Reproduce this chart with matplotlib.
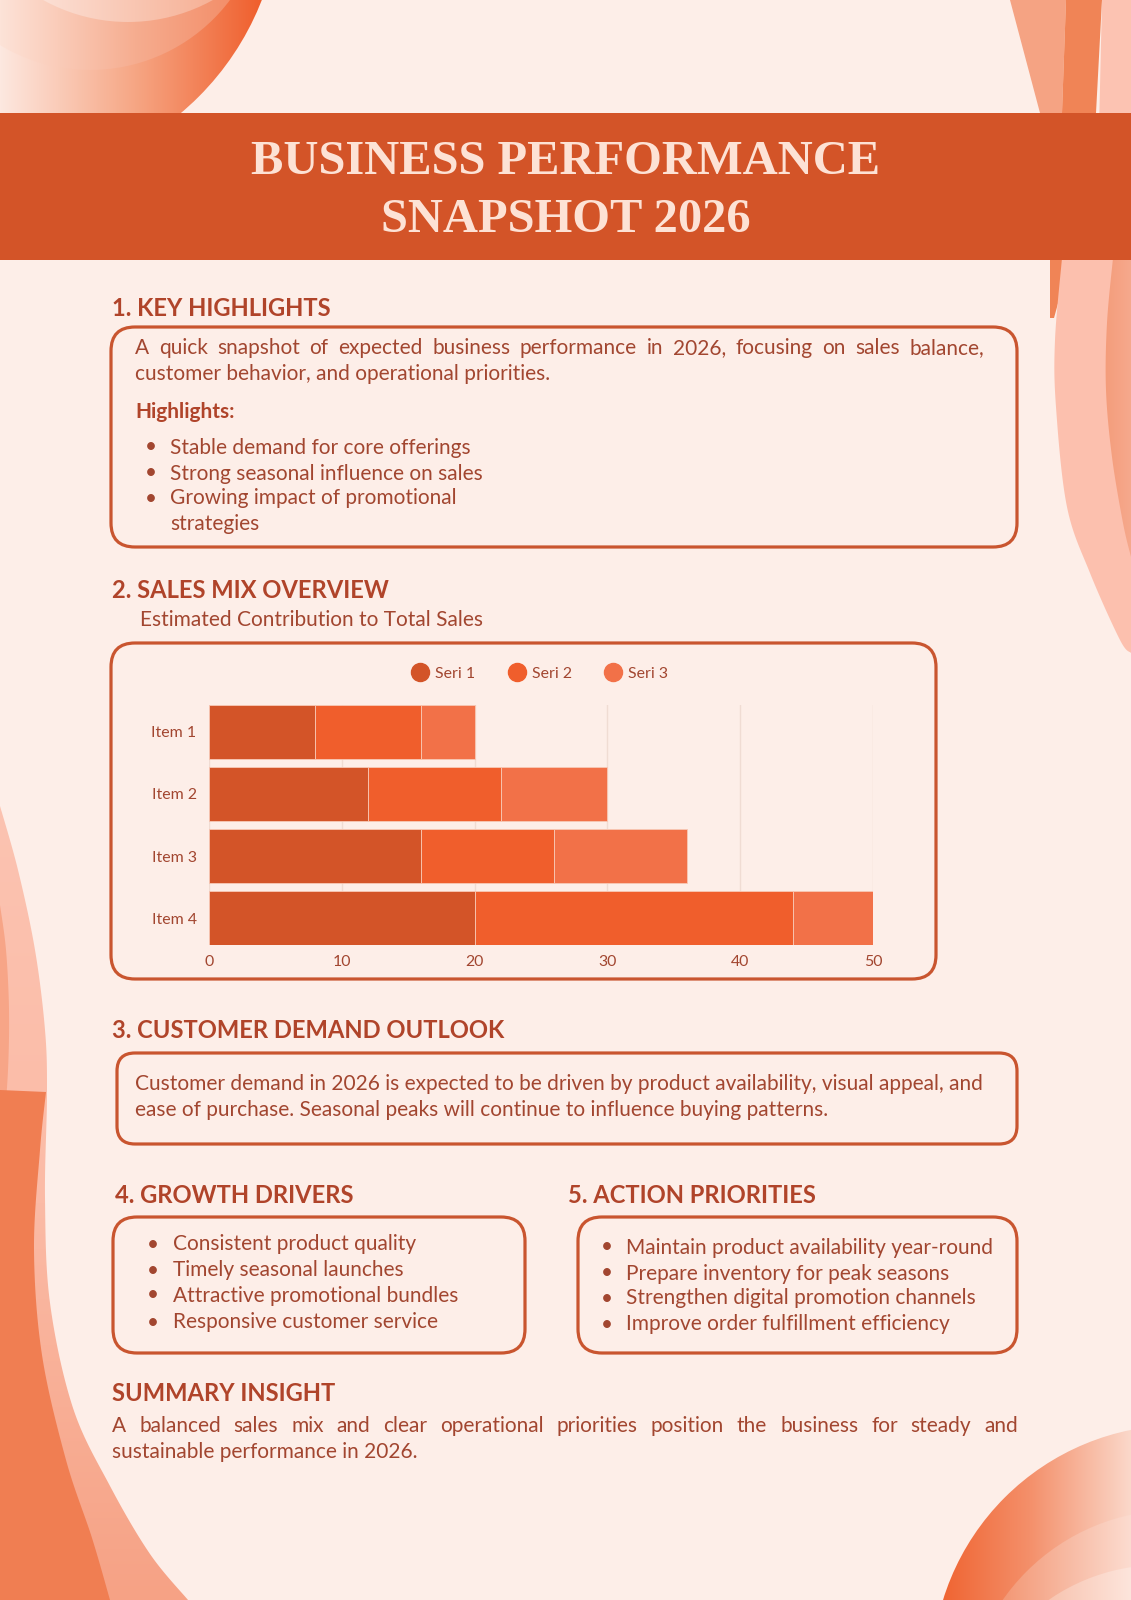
import numpy as np
import matplotlib
matplotlib.use("Agg")
import matplotlib.pyplot as plt
from matplotlib.patches import Rectangle, Circle, Polygon, FancyBboxPatch
from matplotlib.colors import LinearSegmentedColormap
from matplotlib.lines import Line2D

# ---------------- data ----------------
items = ["Item 1", "Item 2", "Item 3", "Item 4"]
series_names = ["Seri 1", "Seri 2", "Seri 3"]
seri1 = [8, 12, 16, 20]
seri2 = [8, 10, 10, 24]
seri3 = [4, 8, 10, 6]
x_ticks = [0, 10, 20, 30, 40, 50]

title_lines = ["BUSINESS PERFORMANCE", "SNAPSHOT 2026"]
highlights = ["Stable demand for core offerings",
              "Strong seasonal influence on sales",
              "Growing impact of promotional",
              "strategies"]
growth = ["Consistent product quality", "Timely seasonal launches",
          "Attractive promotional bundles", "Responsive customer service"]
actions = ["Maintain product availability year-round", "Prepare inventory for peak seasons",
           "Strengthen digital promotion channels", "Improve order fulfillment efficiency"]

# ---------------- style ----------------
W, H = 1131, 1600
BG = "#FDEEE8"
HEADER = "#D35428"
TITLE_C = "#FDE2D5"
HEAD_C = "#B0442A"
BODY_C = "#A24630"
EDGE = "#C9552F"
BAR_COLORS = ["#D35428", "#F05E2C", "#F27148"]
BODY_FONT = "Lato"
DY = 2.5

fig = plt.figure(figsize=(W / 100, H / 100), dpi=100)
fig.patch.set_facecolor(BG)
bg = fig.add_axes([0, 0, 1, 1])
bg.set_xlim(0, W)
bg.set_ylim(H, 0)
bg.axis("off")
bg.set_facecolor(BG)
renderer = fig.canvas.get_renderer()


def width_of(s, size, **kw):
    t = bg.text(0, 0, s, fontsize=size, **kw)
    w = t.get_window_extent(renderer).width
    t.remove()
    return w


def fit(s, target, **kw):
    return 20 * target / width_of(s, 20, **kw)


def grad_fill(patch, x0, x1, colors, z, vertical=False, y0=0, y1=H):
    patch.set_facecolor("none")
    patch.set_edgecolor("none")
    patch.set_zorder(z)
    bg.add_patch(patch)
    cmap = LinearSegmentedColormap.from_list("g", colors)
    g = np.linspace(0, 1, 256)
    if vertical:
        arr = g.reshape(-1, 1)
        ext = [0, W, y1, y0]
    else:
        arr = g.reshape(1, -1)
        ext = [x0, x1, H, 0]
    im = bg.imshow(arr, cmap=cmap, extent=ext, aspect="auto", zorder=z,
                   interpolation="bilinear", origin="upper")
    im.set_clip_path(patch)


def smooth(pts, n=20):
    pts = np.asarray(pts, float)
    P = np.vstack([pts[0], pts, pts[-1]])
    out = []
    for i in range(1, len(P) - 2):
        p0, p1, p2, p3 = P[i - 1], P[i], P[i + 1], P[i + 2]
        for t in np.linspace(0, 1, n, endpoint=False):
            t2, t3 = t * t, t * t * t
            out.append(0.5 * ((2 * p1) + (-p0 + p2) * t + (2 * p0 - 5 * p1 + 4 * p2 - p3) * t2
                              + (-p0 + 3 * p1 - 3 * p2 + p3) * t3))
    out.append(pts[-1])
    return np.array(out)


# ---------------- decorations ----------------
# top-left concentric circles
grad_fill(Circle((0, -102), 281), 0, 270, ["#FDE8E0", "#F6A684", "#EF5A27"], 1)
grad_fill(Circle((90, -105), 175), 0, 270, ["#FDE3D8", "#F6AD90", "#F2825A"], 1.1)
grad_fill(Circle((128, -153), 175), 0, 270, ["#FDEBE4", "#F9C6B2", "#F5A282"], 1.2)

# top-right bands
bg.add_patch(Polygon([(1010, 0), (1066, 0), (1062, 113), (1040, 113)], closed=True,
                     fc="#F5A383", ec="none", zorder=1))
bg.add_patch(Polygon([(1066, 0), (1102, 0), (1096, 113), (1070, 260), (1054, 318),
                      (1050, 318), (1050, 260), (1062, 113)], closed=True,
                     fc="#F08456", ec="none", zorder=1))
bg.add_patch(Polygon([(1102, 0), (W, 0), (W, 260), (1096, 260)], closed=True,
                     fc="#FCC3B2", ec="none", zorder=1))
edge_pts = smooth([(1062, 258), (1055, 340), (1056, 407), (1067, 507), (1090, 573),
                   (1120, 640), (1131, 653)])
bg.add_patch(Polygon(np.vstack([edge_pts, [(W, 653), (W, 258)]]), closed=True,
                     fc="#FCC0AE", ec="none", zorder=1.2))
sal_pts = smooth([(1113, 258), (1107, 323), (1106, 390), (1112, 457), (1123, 523), (1131, 557)])
grad_fill(Polygon(np.vstack([sal_pts, [(W, 557), (W, 258)]]), closed=True), 1100, W,
          ["#F49A77", "#F6A98D"], 1.3)

# left-bottom shapes
pink_pts = smooth([(0, 806), (18, 870), (35, 950), (45, 1030), (47, 1094), (45, 1198),
                   (50, 1303), (73, 1408), (110, 1486), (150, 1554), (188, 1600)])
grad_fill(Polygon(np.vstack([pink_pts, [(0, 1600)]]), closed=True), 0, W,
          ["#FCC3B1", "#FBBBA6", "#F6A285"], 1, vertical=True, y0=806, y1=1600)
strip = smooth([(0, 905), (6, 950), (9, 1010), (8, 1070), (4, 1120), (0, 1135)])
bg.add_patch(Polygon(strip, closed=True, fc="#F7A587", ec="none", zorder=1.1))
orange_pts = smooth([(46, 1092), (40, 1150), (34, 1250), (42, 1355), (66, 1460),
                     (92, 1538), (110, 1600)])
bg.add_patch(Polygon(np.vstack([[(0, 1090)], orange_pts, [(0, 1600)]]), closed=True,
                     fc="#F07E52", ec="none", zorder=1.2))

# bottom-right concentric circles
grad_fill(Circle((1180, 1673), 248), 930, W, ["#EF5E2A", "#F4906B", "#FBD8CA"], 1)
grad_fill(Circle((1175, 1720), 210), 960, W, ["#F18257", "#F6AE93", "#FCDCD0"], 1.1)
grad_fill(Circle((1160, 1760), 195), 1000, W, ["#F5AE93", "#F9CBB9", "#FDE5DC"], 1.2)

# header band
bg.add_patch(Rectangle((0, 113), W, 147, fc=HEADER, ec="none", zorder=3))
TFONT = "Liberation Serif"
tsize = fit(title_lines[0], 628, family=TFONT, fontweight="bold")
bg.text(W / 2, 162, title_lines[0], fontsize=tsize, family=TFONT, fontweight="bold",
        color=TITLE_C, ha="center", va="center", zorder=4)
bg.text(W / 2, 220, title_lines[1], fontsize=tsize, family=TFONT, fontweight="bold",
        color=TITLE_C, ha="center", va="center", zorder=4)

# ---------------- text helpers ----------------
hsize = fit("3. CUSTOMER DEMAND OUTLOOK", 392, family=BODY_FONT, fontweight="bold")
bsize = fit("Customer demand in 2026 is expected to be driven by product availability, visual appeal, and",
            849, family=BODY_FONT)


def heading(x, y, s):
    bg.text(x, y + DY, s, fontsize=hsize, family=BODY_FONT, fontweight="bold", color=HEAD_C,
            ha="left", va="center", zorder=5)


def body(x, y, s, **kw):
    kw.setdefault("ha", "left")
    bg.text(x, y + DY, s, fontsize=bsize, family=BODY_FONT, color=BODY_C,
            va="center", zorder=5, **kw)


def justify(x0, x1, y, s):
    words = s.split()
    ws = [width_of(w, bsize, family=BODY_FONT) for w in words]
    gap = (x1 - x0 - sum(ws)) / (len(words) - 1)
    x = x0
    for w, wd in zip(words, ws):
        body(x, y, w)
        x += wd + gap


def box(x0, y0, x1, y1, r=24):
    bg.add_patch(FancyBboxPatch((x0, y0), x1 - x0, y1 - y0,
                                boxstyle=f"round,pad=0,rounding_size={r}",
                                fc=BG, ec=EDGE, lw=2.3, zorder=4))


def bullets(xb, xt, ys, lines, skip_last_bullet=False):
    for i, (y, s) in enumerate(zip(ys, lines)):
        if not (skip_last_bullet and i == len(lines) - 1):
            body(xb, y, "\u2022", ha="center")
        body(xt, y, s)


# 1. Key highlights
heading(112, 306, "1. KEY HIGHLIGHTS")
box(111, 327, 1017, 547)
justify(135, 984, 346,
        "A quick snapshot of expected business performance in 2026, focusing on sales balance,")
body(135, 372, "customer behavior, and operational priorities.")
bg.text(135, 410 + DY, "Highlights:", fontsize=bsize, family=BODY_FONT, fontweight="bold",
        color=HEAD_C, ha="left", va="center", zorder=5)
bullets(151, 170, [445, 471, 496, 522], highlights, skip_last_bullet=True)

# 2. Sales mix
heading(112, 588, "2. SALES MIX OVERVIEW")
body(140, 618, "Estimated Contribution to Total Sales")
box(111, 643, 936, 979)

# 3. Customer demand
heading(112, 1028, "3. CUSTOMER DEMAND OUTLOOK")
box(117, 1053, 1017, 1144, r=18)
body(135, 1082, "Customer demand in 2026 is expected to be driven by product availability, visual appeal, and")
body(135, 1108, "ease of purchase. Seasonal peaks will continue to influence buying patterns.")

# 4 & 5
heading(115, 1193, "4. GROWTH DRIVERS")
box(113, 1217, 525, 1353)
bullets(153, 173, [1242, 1268, 1293, 1320], growth)
heading(568, 1193, "5. ACTION PRIORITIES")
box(578, 1217, 1017, 1353)
bullets(607, 626, [1245, 1271, 1296, 1322], actions)

# Summary
heading(112, 1391, "SUMMARY INSIGHT")
justify(112, 1018, 1423,
        "A balanced sales mix and clear operational priorities position the business for steady and")
body(112, 1449, "sustainable performance in 2026.")

# ---------------- chart ----------------
L, R, T, B = 209, 873, 705, 945
ax = fig.add_axes([L / W, 1 - B / H, (R - L) / W, (B - T) / H])
ax.set_facecolor("none")
ypos = np.arange(len(items))
left = np.zeros(len(items))
for vals, c in zip([seri1, seri2, seri3], BAR_COLORS):
    ax.barh(ypos, vals, left=left, height=0.87, color=c, edgecolor="#F8C9B6",
            linewidth=0.6, zorder=3)
    left = left + np.array(vals)
ax.set_xlim(0, 50)
ax.set_ylim(len(items) - 1 + 0.435, -0.435)
ax.set_xticks(x_ticks)
ax.set_yticks(ypos)
ax.set_yticklabels(items)
tick_size = fit("Item 1", 45, family=BODY_FONT)
for lab in ax.get_xticklabels() + ax.get_yticklabels():
    lab.set_fontsize(tick_size)
    lab.set_family(BODY_FONT)
    lab.set_color(BODY_C)
ax.tick_params(axis="x", length=0, pad=7)
ax.tick_params(axis="y", length=0, pad=9)
ax.xaxis.grid(True, color="#F0DCD3", lw=1, zorder=0)
ax.set_axisbelow(True)
for s in ax.spines.values():
    s.set_visible(False)

handles = [Line2D([], [], marker="o", ls="", markersize=13, color=c, mec=c)
           for c in BAR_COLORS]
leg = ax.legend(handles, series_names, loc="center", bbox_to_anchor=(0.5, 1.13),
                ncol=3, frameon=False, handlelength=0.8, handletextpad=0.55,
                columnspacing=2.2, prop={"family": BODY_FONT, "size": tick_size})
for t in leg.get_texts():
    t.set_color(BODY_C)

fig.savefig("out.png", dpi=100, facecolor=BG)
